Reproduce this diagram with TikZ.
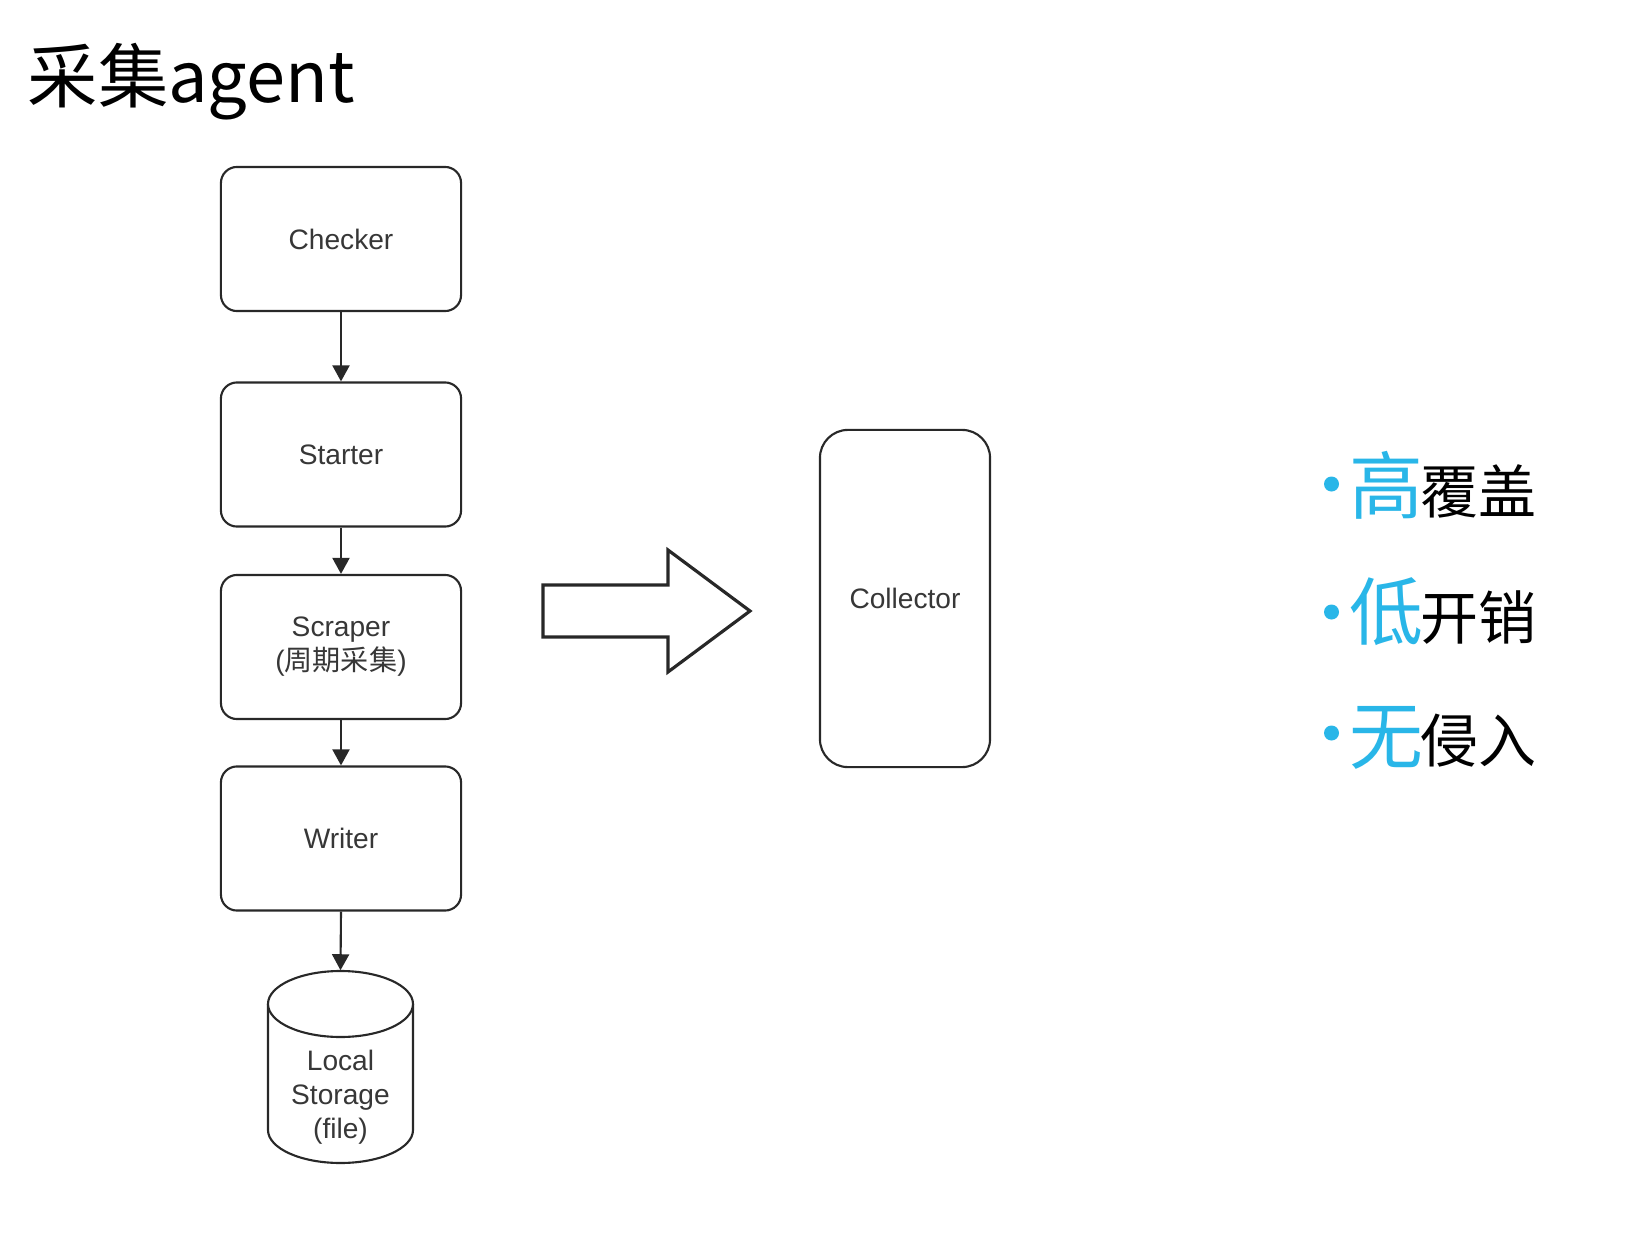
\documentclass[tikz,border=0pt]{standalone}
\usepackage{fontspec}
\setmainfont{Liberation Sans}
\newfontfamily\cjk{Noto Sans CJK SC}
\usetikzlibrary{arrows.meta}
\definecolor{hl}{RGB}{41,182,232}
\definecolor{ln}{RGB}{40,40,40}
\definecolor{txt}{RGB}{55,55,55}
\begin{document}
\begin{tikzpicture}[x=0.01cm,y=0.01cm,
  stepbox/.style={draw=ln, line width=0.6pt, rounded corners=0.16cm,
    minimum width=2.40cm, minimum height=1.44cm, inner sep=0pt,
    align=center, text=txt, font=\fontsize{8}{9.1}\selectfont},
  flow/.style={draw=ln, line width=0.6pt, -{Triangle[length=0.16cm,width=0.17cm]}},
  plain/.style={inner sep=0pt, align=center, text=txt, font=\fontsize{8}{9.6}\selectfont},
  blue/.style={inner sep=0pt, text=hl, font=\cjk\fontsize{21}{24}\selectfont},
  black/.style={inner sep=0pt, anchor=west, text=black, font=\cjk\fontsize{16.5}{20}\selectfont},
]
\useasboundingbox (0,0) rectangle (1650,-1248);
\fill[white] (0,0) rectangle (1650,-1248);

% title
\node[anchor=base west, inner sep=0pt, font=\cjk\fontsize{20}{24}\selectfont] (title) at (27,-102) {采集agent};

% pipeline
\node[stepbox] (checker) at (341,-239) {Checker};
\node[stepbox] (starter) at (341,-454.5) {Starter};
\node[stepbox] (scraper) at (341,-647) {\raisebox{-0.04cm}{\begin{tabular}{@{}c@{}}Scraper\\({\cjk 周期采集})\end{tabular}}};
\node[stepbox] (writer) at (341,-838.5) {Writer};

% storage cylinder
\node[minimum width=1.45cm, minimum height=1.92cm, inner sep=0pt] (storage) at (340.5,-1067) {};
\draw[ln, line width=0.6pt, fill=white] (268,-1004) -- (268,-1130)
  arc[start angle=180, end angle=360, x radius=72.5, y radius=33] -- (413,-1004);
\draw[ln, line width=0.6pt, fill=white] (340.5,-1004) ellipse[x radius=72.5, y radius=33];
\node[plain] (storagetext) at (340.5,-1097) {Local\\Storage\\(file)};

\draw[flow] (checker.south) -- (starter.north);
\draw[flow] (starter.south) -- (scraper.north);
\draw[flow] (scraper.south) -- (writer.north);
\draw[flow] (writer.south) -- (storage.north);

% big arrow
\draw[ln, line width=0.9pt, line join=miter, fill=white]
  (543,-585) -- (668,-585) -- (668,-550) -- (750,-611) -- (668,-672)
  -- (668,-637) -- (543,-637) -- cycle;

% collector
\node[stepbox, minimum width=1.70cm, minimum height=3.37cm, rounded corners=0.28cm] (collector) at (905,-598.5) {Collector};

% bullets
\fill[hl] (1331.5,-484) circle[radius=7.5];
\node[blue] (b1) at (1386,-485.5) {高};
\node[black] (t1) at (1420,-491.5) {覆盖};
\fill[hl] (1331.5,-612) circle[radius=7.5];
\node[blue] (b2) at (1386,-611.5) {低};
\node[black] (t2) at (1420,-618) {开销};
\fill[hl] (1331.5,-733) circle[radius=7.5];
\node[blue] (b3) at (1386,-737.5) {无};
\node[black] (t3) at (1420,-740.5) {侵入};
\end{tikzpicture}
\end{document}
